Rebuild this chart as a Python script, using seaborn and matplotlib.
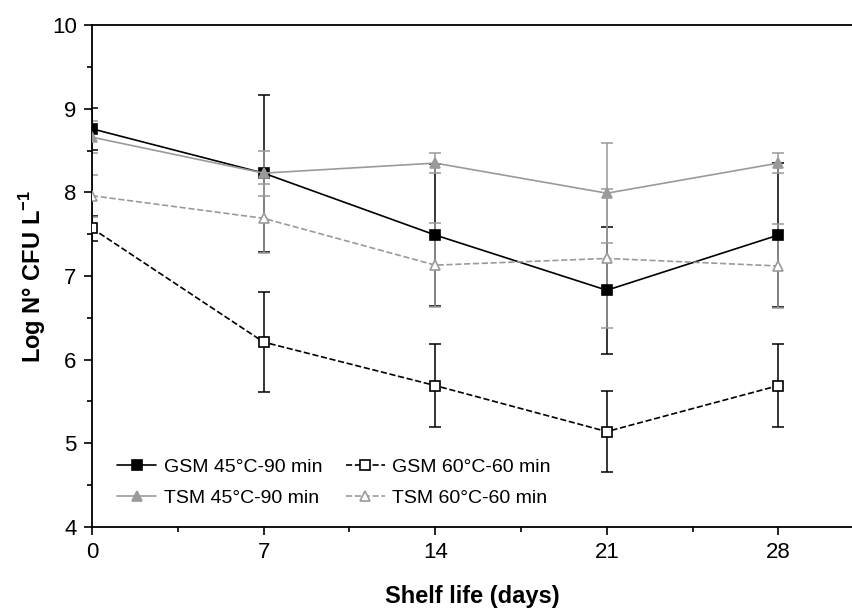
import matplotlib
matplotlib.use('Agg')
import matplotlib.pyplot as plt
from matplotlib.ticker import MultipleLocator
import seaborn as sns

# shelf life days
days = [0, 7, 14, 21, 28]

# mean log counts and standard deviations
gsm45 = [8.76, 8.23, 7.49, 6.83, 7.49]
gsm45_sd = [0.25, 0.94, 0.85, 0.76, 0.86]
gsm60 = [7.57, 6.21, 5.69, 5.14, 5.69]
gsm60_sd = [0.15, 0.60, 0.50, 0.48, 0.50]
tsm45 = [8.66, 8.23, 8.35, 7.99, 8.35]
tsm45_sd = [0.19, 0.27, 0.12, 0.60, 0.12]
tsm60 = [7.96, 7.69, 7.13, 7.21, 7.12]
tsm60_sd = [0.25, 0.41, 0.50, 0.83, 0.50]

labels = ['GSM 45°C-90 min', 'GSM 60°C-60 min', 'TSM 45°C-90 min', 'TSM 60°C-60 min']

sns.set_style('ticks')
plt.rcParams['font.family'] = ['Liberation Sans', 'DejaVu Sans']
plt.rcParams['mathtext.fontset'] = 'custom'
plt.rcParams['mathtext.rm'] = 'Liberation Sans'
plt.rcParams['mathtext.bf'] = 'Liberation Sans:bold'
plt.rcParams['text.color'] = 'black'
plt.rcParams['axes.labelcolor'] = 'black'

fig = plt.figure(figsize=(8.52, 6.12), dpi=100)
ax = fig.add_axes([0.108, 0.139, 0.892, 0.820])

black = '#000000'
grey = '#9a9a9a'

series = [
    (gsm45, gsm45_sd, labels[0], black, 's', black, '-'),
    (gsm60, gsm60_sd, labels[1], black, 's', 'white', '--'),
    (tsm45, tsm45_sd, labels[2], grey, '^', grey, '-'),
    (tsm60, tsm60_sd, labels[3], grey, '^', 'white', '--'),
]

for vals, sd, lab, col, mk, fc, ls in series:
    ax.errorbar(days, vals, yerr=sd, fmt='none', ecolor=col, elinewidth=1.1,
                capsize=4.5, capthick=1.1, zorder=2)
    sns.lineplot(x=days, y=vals, ax=ax, color=col, marker=mk, markersize=6.5,
                 markerfacecolor=fc, markeredgecolor=col, markeredgewidth=1.2,
                 linestyle=ls, linewidth=1.2, label=lab, zorder=3)

h, l = ax.get_legend_handles_labels()
order = [0, 2, 1, 3]
leg = ax.legend([h[i] for i in order], [l[i] for i in order], ncol=2, frameon=False,
                loc='lower left', bbox_to_anchor=(0.01, 0.005), fontsize=14,
                handlelength=2.0, handletextpad=0.4, columnspacing=1.2,
                labelspacing=0.7, markerscale=1.0)
for t in leg.get_texts():
    t.set_color('black')

ax.set_xlim(0, 31)
ax.set_ylim(4, 10)
ax.set_xticks(days)
ax.xaxis.set_minor_locator(MultipleLocator(3.5))
ax.yaxis.set_major_locator(MultipleLocator(1))
ax.yaxis.set_minor_locator(MultipleLocator(0.5))
ax.tick_params(axis='both', which='major', direction='out', length=6, width=1.2,
               labelsize=16, colors='black', pad=5)
ax.tick_params(axis='both', which='minor', direction='out', length=3.5, width=1.2,
               colors='black')

for s in ['left', 'bottom', 'top']:
    ax.spines[s].set_linewidth(1.3)
    ax.spines[s].set_color('black')
ax.spines['right'].set_visible(False)

ax.set_xlabel('Shelf life (days)', fontsize=17, fontweight='bold', labelpad=16)
ax.set_ylabel(r'Log N° CFU L$^{\mathbf{-1}}$', fontsize=17, fontweight='bold', labelpad=3)

fig.savefig('out.png', dpi=100)
